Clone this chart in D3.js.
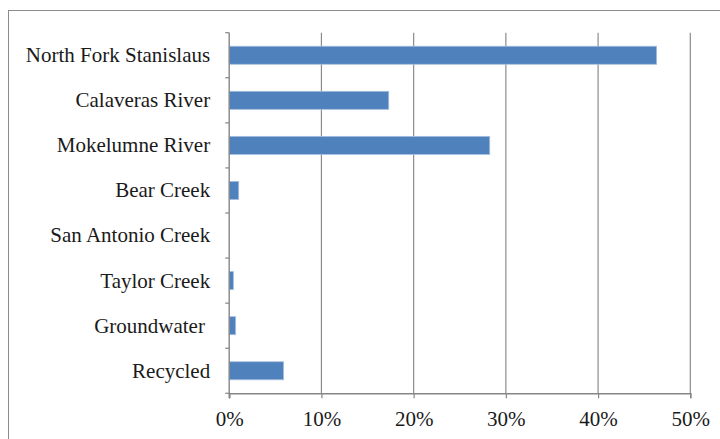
<!DOCTYPE html>
<html>
<head>
<meta charset="utf-8">
<script src="https://cdn.jsdelivr.net/npm/d3@7"></script>
<style>
  body { margin: 0; background: #fff; }
  svg { display: block; }
  text { font-family: "Liberation Serif", "DejaVu Serif", serif; fill: #1a1a1a; }
</style>
</head>
<body>
<div id="chart"></div>
<script>
// Data
const categories = ['North Fork Stanislaus', 'Calaveras River', 'Mokelumne River', 'Bear Creek',
    'San Antonio Creek', 'Taylor Creek', 'Groundwater ', 'Recycled'];
const shares = [0.4635, 0.173, 0.2825, 0.0103, 0, 0.0045, 0.007, 0.059];
const xTicks = [0, 0.1, 0.2, 0.3, 0.4, 0.5];

const width = 720, height = 439;
const plotLeft = 229.2, plotRight = 690.3, plotTop = 32.7, plotBottom = 393.3;

const svg = d3.select('#chart').append('svg')
    .attr('width', width)
    .attr('height', height);

// Outer chart frame (runs off the right and bottom edge)
svg.append('rect')
    .attr('x', 8.5).attr('y', 10.5)
    .attr('width', 800).attr('height', 600)
    .style('fill', 'none')
    .style('stroke', '#8c8c8c')
    .style('stroke-width', 1);

const x = d3.scaleLinear().domain([0, 0.5]).range([plotLeft, plotRight]);
const y = d3.scaleBand().domain(categories).range([plotTop, plotBottom])
    .paddingInner(0.6).paddingOuter(0.3);

// Vertical gridlines
svg.append('g').selectAll('line')
    .data(xTicks.slice(1))
    .join('line')
    .attr('x1', d => x(d)).attr('x2', d => x(d))
    .attr('y1', plotTop).attr('y2', plotBottom)
    .style('stroke', '#8c8c8c')
    .style('stroke-width', 1.2);

// Bars
svg.append('g').selectAll('rect')
    .data(categories)
    .join('rect')
    .attr('x', x(0))
    .attr('y', d => y(d))
    .attr('width', (d, i) => x(shares[i]) - x(0))
    .attr('height', y.bandwidth())
    .style('fill', '#4f81bd')
    .style('stroke', (d, i) => shares[i] > 0 ? '#a7bfdf' : 'none')
    .style('stroke-width', 0.8);

// X axis
const xAxis = d3.axisBottom(x)
    .tickValues(xTicks)
    .tickFormat(d3.format('.0%'))
    .tickSize(5)
    .tickPadding(13);

const gx = svg.append('g')
    .attr('transform', `translate(0,${plotBottom})`)
    .call(xAxis);
gx.select('.domain').style('stroke', '#868686').style('stroke-width', 1.4);
gx.selectAll('.tick line').style('stroke', '#868686').style('stroke-width', 1.2);
gx.selectAll('.tick text')
    .style('font-family', '"Liberation Serif", "DejaVu Serif", serif')
    .style('font-size', '21px')
    .style('fill', '#1a1a1a');

// Y axis line with boundary ticks
svg.append('line')
    .attr('x1', plotLeft).attr('x2', plotLeft)
    .attr('y1', plotTop).attr('y2', plotBottom + 5)
    .style('stroke', '#868686')
    .style('stroke-width', 1.4);

const step = y.step();
svg.append('g').selectAll('line')
    .data(d3.range(categories.length + 1))
    .join('line')
    .attr('x1', plotLeft - 4).attr('x2', plotLeft)
    .attr('y1', i => plotTop + i * step).attr('y2', i => plotTop + i * step)
    .style('stroke', '#868686')
    .style('stroke-width', 1.2);

// Category labels (keep the trailing space of "Groundwater ")
svg.append('g').selectAll('text')
    .data(categories)
    .join('text')
    .attr('x', plotLeft - 19)
    .attr('y', d => y(d) + y.bandwidth() / 2)
    .attr('dy', '0.33em')
    .attr('text-anchor', 'end')
    .style('font-size', '21px')
    .style('white-space', 'pre')
    .text(d => d);
</script>
</body>
</html>
